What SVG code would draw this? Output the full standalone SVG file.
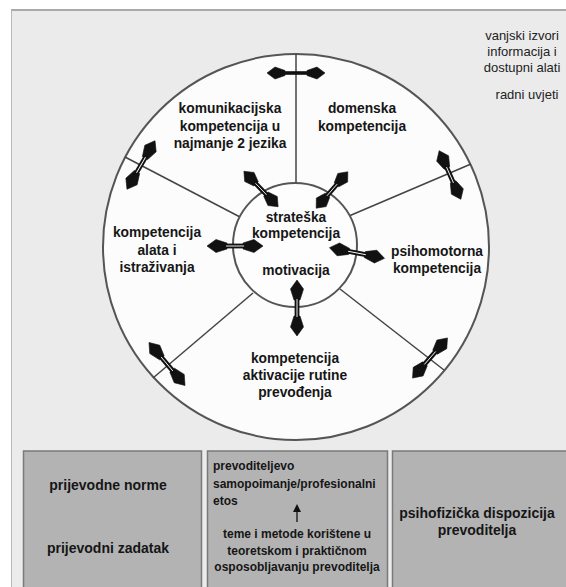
<svg xmlns="http://www.w3.org/2000/svg" xmlns:xlink="http://www.w3.org/1999/xlink" width="566" height="587" viewBox="0 0 566 587">
<style>
.b{font-family:"Liberation Sans",Arial,sans-serif;font-weight:bold;font-size:13.8px;fill:#161616;text-anchor:middle}
.bb{font-family:"Liberation Sans",Arial,sans-serif;font-weight:bold;font-size:14px;fill:#161616;text-anchor:middle}
.bs{font-family:"Liberation Sans",Arial,sans-serif;font-weight:bold;font-size:12px;fill:#161616}
.r{font-family:"Liberation Sans",Arial,sans-serif;font-size:13px;fill:#222;text-anchor:middle}
.spoke{stroke:#444;stroke-width:1.5;fill:none}
.box{fill:#b3b3b3;stroke:#7a7a7a;stroke-width:1.5}
</style>
<defs>
<g id="dbl">
<path d="M-28,0 L-19,-6.5 L-8,-3 L-8,3 L-19,6.5 Z" fill="#111" stroke="#111" stroke-width="0.6" stroke-linejoin="round"/>
<path d="M28,0 L19,-6.5 L8,-3 L8,3 L19,6.5 Z" fill="#111" stroke="#111" stroke-width="0.6" stroke-linejoin="round"/>
<rect x="-10" y="-2.4" width="20" height="4.8" fill="#111"/>
<line x1="-9" y1="0" x2="9" y2="0" stroke="#fff" stroke-width="0.9"/>
</g>
<g id="dbls">
<path d="M-29,0 L-21,-6 L-11,-2.5 L-11,2.5 L-21,6 Z" fill="#111" stroke="#111" stroke-width="0.6" stroke-linejoin="round"/>
<path d="M29,0 L21,-6 L11,-2.5 L11,2.5 L21,6 Z" fill="#111" stroke="#111" stroke-width="0.6" stroke-linejoin="round"/>
<rect x="-13" y="-1.8" width="26" height="3.6" fill="#111"/>
</g>
<marker id="up" markerWidth="8" markerHeight="8" refX="2" refY="4" orient="auto" markerUnits="userSpaceOnUse">
<path d="M0,0 L8,4 L0,8 Z" fill="#111"/>
</marker>
</defs>

<rect x="11" y="10" width="560" height="580" fill="#ebebeb"/>
<line x1="11" y1="10" x2="566" y2="10" stroke="#a9a9a9" stroke-width="2"/>
<line x1="11.5" y1="10" x2="11.5" y2="587" stroke="#b8b8b8" stroke-width="1"/>

<g id="wheel">
<circle cx="296" cy="247" r="193" fill="#fcfcfc" stroke="#555" stroke-width="2"/>
</g>

<g id="connectors">
<line class="spoke" x1="296" y1="54" x2="296" y2="184"/>
<line class="spoke" x1="125" y1="157" x2="240" y2="217"/>
<line class="spoke" x1="471" y1="164" x2="349" y2="216"/>
<line class="spoke" x1="153" y1="378" x2="253" y2="293"/>
<line class="spoke" x1="444" y1="370" x2="340" y2="289"/>
<circle cx="295" cy="245" r="62" fill="#fdfdfd" stroke="#555" stroke-width="2"/>
<use xlink:href="#dbls" transform="translate(296,73)"/>
<use xlink:href="#dbl" transform="translate(141,165) rotate(120)"/>
<use xlink:href="#dbl" transform="translate(261,189) rotate(46) scale(0.88,1)"/>
<use xlink:href="#dbl" transform="translate(332,190) rotate(131) scale(0.86,1)"/>
<use xlink:href="#dbl" transform="translate(450,175) rotate(66) scale(0.95,1)"/>
<use xlink:href="#dbl" transform="translate(235,246)"/>
<use xlink:href="#dbl" transform="translate(357,253) rotate(11)"/>
<use xlink:href="#dbl" transform="translate(297,308) rotate(90)"/>
<use xlink:href="#dbl" transform="translate(167,364) rotate(50)"/>
<use xlink:href="#dbl" transform="translate(430,358) rotate(131) scale(0.95,1)"/>
</g>

<g id="external">
<text class="r" x="522" y="40">vanjski izvori</text>
<text class="r" x="522" y="56">informacija i</text>
<text class="r" x="522" y="72">dostupni alati</text>
<text class="r" x="527" y="99">radni uvjeti</text>
</g>

<g id="komunikacijska">
<text class="b" x="230" y="113">komunikacijska</text>
<text class="b" x="230" y="131">kompetencija u</text>
<text class="b" x="230" y="148">najmanje 2 jezika</text>
</g>
<g id="domenska">
<text class="b" x="362" y="113">domenska</text>
<text class="b" x="362" y="131">kompetencija</text>
</g>
<g id="strateska">
<text class="b" x="296" y="222">strateška</text>
<text class="b" x="296" y="238">kompetencija</text>
</g>
<g id="motivacija">
<text class="b" x="296" y="275">motivacija</text>
</g>
<g id="alati">
<text class="b" x="157" y="237">kompetencija</text>
<text class="b" x="157" y="255">alata i</text>
<text class="b" x="157" y="272">istraživanja</text>
</g>
<g id="psihomotorna">
<text class="b" x="437" y="256">psihomotorna</text>
<text class="b" x="437" y="273">kompetencija</text>
</g>
<g id="aktivacija">
<text class="b" x="295" y="363">kompetencija</text>
<text class="b" x="295" y="380">aktivacije rutine</text>
<text class="b" x="295" y="397">prevođenja</text>
</g>

<g id="box-norme">
<rect class="box" x="23.5" y="451" width="178" height="140"/>
<text class="bb" x="108" y="490">prijevodne norme</text>
<text class="bb" x="108" y="553">prijevodni zadatak</text>
</g>
<g id="box-etos">
<rect class="box" x="207.5" y="451" width="180" height="140"/>
<text class="bs" x="213" y="470">prevoditeljevo</text>
<text class="bs" x="213" y="488">samopoimanje/profesionalni</text>
<text class="bs" x="213" y="505">etos</text>
<line x1="297" y1="522" x2="297" y2="510" stroke="#111" stroke-width="1.3" marker-end="url(#up)"/>
<text class="bs" x="297" y="538" text-anchor="middle">teme i metode korištene u</text>
<text class="bs" x="297" y="555" text-anchor="middle">teoretskom i praktičnom</text>
<text class="bs" x="297" y="571" text-anchor="middle">osposobljavanju prevoditelja</text>
</g>
<g id="box-psiho">
<rect class="box" x="392.5" y="451" width="180" height="140"/>
<text class="bb" x="477" y="518">psihofizička dispozicija</text>
<text class="bb" x="477" y="535">prevoditelja</text>
</g>
</svg>
